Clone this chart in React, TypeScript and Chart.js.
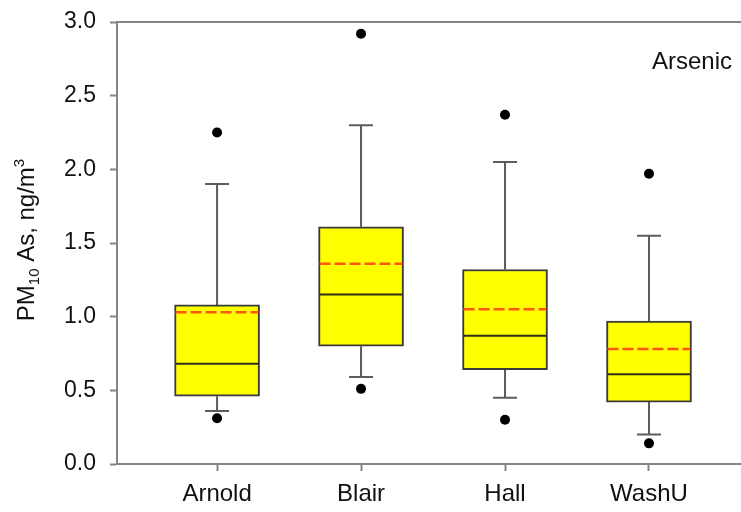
import { useEffect, useRef } from 'react';
import { Chart, registerables } from 'chart.js';

Chart.register(...registerables);

// Arsenic box-plot summaries per monitoring site (ng/m3)
const categories = ['Arnold', 'Blair', 'Hall', 'WashU'];
const lowerWhisker = [0.36, 0.59, 0.45, 0.2];
const lowerQuartile = [0.46, 0.8, 0.64, 0.42];
const medians = [0.68, 1.15, 0.87, 0.61];
const upperQuartile = [1.08, 1.61, 1.32, 0.97];
const upperWhisker = [1.9, 2.3, 2.05, 1.55];
const means = [1.03, 1.36, 1.05, 0.78];
const lowOutliers = [0.31, 0.51, 0.3, 0.14];
const highOutliers = [2.25, 2.92, 2.37, 1.97];
const yTicks = [0, 0.5, 1.0, 1.5, 2.0, 2.5, 3.0];
const panelLabel = 'Arsenic';

const FONT = "'Liberation Sans', Arial, Helvetica, sans-serif";
const AXIS_COLOR = '#858585';
const TEXT_COLOR = '#111111';

const boxPlotPlugin = {
  id: 'boxPlotExtras',
  beforeDatasetsDraw(chart: any) {
    const { ctx, chartArea, scales } = chart;
    const x = scales.x;
    const y = scales.y;
    ctx.save();
    // frame line along the top of the plot area
    ctx.strokeStyle = AXIS_COLOR;
    ctx.lineWidth = 2;
    ctx.beginPath();
    ctx.moveTo(chartArea.left - 1, chartArea.top);
    ctx.lineTo(chartArea.right, chartArea.top);
    ctx.stroke();

    // whiskers with end caps
    ctx.strokeStyle = '#5c5c5c';
    ctx.lineWidth = 2;
    categories.forEach((_, i) => {
      const px = x.getPixelForValue(i + 1);
      const capHalf = 12;
      const spans = [
        [upperQuartile[i], upperWhisker[i]],
        [lowerQuartile[i], lowerWhisker[i]],
      ];
      spans.forEach(([from, to]) => {
        const y0 = y.getPixelForValue(from);
        const y1 = y.getPixelForValue(to);
        ctx.beginPath();
        ctx.moveTo(px, y0);
        ctx.lineTo(px, y1);
        ctx.moveTo(px - capHalf, y1);
        ctx.lineTo(px + capHalf, y1);
        ctx.stroke();
      });
    });
    ctx.restore();
  },
  afterDatasetsDraw(chart: any) {
    const { ctx, scales } = chart;
    const x = scales.x;
    const y = scales.y;
    const boxes = chart.getDatasetMeta(0).data;
    ctx.save();
    categories.forEach((_, i) => {
      const px = x.getPixelForValue(i + 1);
      const half = boxes[i].width / 2 - 1;
      // median
      ctx.setLineDash([]);
      ctx.strokeStyle = '#2e2e1a';
      ctx.lineWidth = 2;
      const ym = y.getPixelForValue(medians[i]);
      ctx.beginPath();
      ctx.moveTo(px - half, ym);
      ctx.lineTo(px + half, ym);
      ctx.stroke();
      // mean
      ctx.setLineDash([11, 4]);
      ctx.strokeStyle = '#ff5414';
      ctx.lineWidth = 2.5;
      const ya = y.getPixelForValue(means[i]);
      ctx.beginPath();
      ctx.moveTo(px - half, ya);
      ctx.lineTo(px + half, ya);
      ctx.stroke();
    });
    ctx.restore();
  },
  afterDraw(chart: any) {
    const { ctx } = chart;
    ctx.save();
    ctx.fillStyle = TEXT_COLOR;

    // panel label in the upper right corner
    ctx.font = `24px ${FONT}`;
    ctx.textAlign = 'right';
    ctx.textBaseline = 'middle';
    ctx.fillText(panelLabel, 732, 62);

    // y-axis title with subscript and superscript
    const parts = [
      { text: 'PM', size: 24, shift: 0 },
      { text: '10', size: 15, shift: 5 },
      { text: ' As, ng/m', size: 24, shift: 0 },
      { text: '3', size: 15, shift: -10 },
    ];
    let total = 0;
    parts.forEach((p) => {
      ctx.font = `${p.size}px ${FONT}`;
      total += ctx.measureText(p.text).width;
    });
    const centerY = 240;
    ctx.translate(34, centerY + total / 2);
    ctx.rotate(-Math.PI / 2);
    ctx.textAlign = 'left';
    ctx.textBaseline = 'alphabetic';
    let cx = 0;
    parts.forEach((p) => {
      ctx.font = `${p.size}px ${FONT}`;
      ctx.fillText(p.text, cx, p.shift);
      cx += ctx.measureText(p.text).width;
    });
    ctx.restore();
  },
};

export default function App() {
  const canvasRef = useRef<HTMLCanvasElement | null>(null);

  useEffect(() => {
    const canvas = canvasRef.current;
    if (!canvas) return;

    const chart = new Chart(canvas, {
      type: 'bar',
      data: {
        datasets: [
          {
            type: 'bar',
            label: 'Interquartile range',
            data: categories.map((_, i) => ({
              x: i + 1,
              y: [lowerQuartile[i], upperQuartile[i]],
            })) as any,
            backgroundColor: '#ffff00',
            borderColor: '#3a3a3a',
            borderWidth: 2,
            borderSkipped: false,
            barThickness: 85,
          },
          {
            type: 'scatter',
            label: 'Outliers',
            data: categories.flatMap((_, i) => [
              { x: i + 1, y: lowOutliers[i] },
              { x: i + 1, y: highOutliers[i] },
            ]),
            backgroundColor: '#000000',
            borderColor: '#000000',
            pointRadius: 5,
            pointBorderWidth: 0,
            showLine: false,
          } as any,
        ],
      },
      options: {
        responsive: false,
        animation: false,
        devicePixelRatio: 1,
        layout: { autoPadding: false, padding: { top: 22, right: 0, left: 0, bottom: 0 } },
        plugins: {
          legend: { display: false },
          tooltip: { enabled: false },
        },
        scales: {
          x: {
            type: 'linear',
            offset: false,
            min: 0.305,
            max: 4.639,
            afterBuildTicks: (scale: any) => {
              scale.ticks = categories.map((_, i) => ({ value: i + 1 }));
            },
            afterFit: (scale: any) => {
              scale.height = 48;
              scale.paddingLeft = 0;
              scale.paddingRight = 0;
            },
            ticks: {
              callback: (v: any) => categories[Math.round(Number(v)) - 1] ?? '',
              font: { family: FONT, size: 24 },
              color: TEXT_COLOR,
              padding: 9,
              maxRotation: 0,
              autoSkip: false,
            },
            grid: {
              offset: false,
              drawOnChartArea: false,
              drawTicks: true,
              tickLength: 7,
              tickColor: AXIS_COLOR,
              tickWidth: 2,
            },
            border: { display: true, color: AXIS_COLOR, width: 2 },
          },
          y: {
            type: 'linear',
            min: 0,
            max: 3,
            afterBuildTicks: (scale: any) => {
              scale.ticks = yTicks.map((v) => ({ value: v }));
            },
            afterFit: (scale: any) => {
              scale.width = 117;
              scale.paddingTop = 0;
              scale.paddingBottom = 0;
            },
            ticks: {
              callback: (v: any) => Number(v).toFixed(1),
              font: { family: FONT, size: 23 },
              color: TEXT_COLOR,
              padding: 14,
            },
            grid: {
              drawOnChartArea: false,
              drawTicks: true,
              tickLength: 7,
              tickColor: AXIS_COLOR,
              tickWidth: 2,
            },
            border: { display: true, color: AXIS_COLOR, width: 2 },
          },
        },
      },
      plugins: [boxPlotPlugin],
    });

    return () => chart.destroy();
  }, []);

  return (
    <div style={{ position: 'fixed', left: 0, top: 0, width: 741, height: 512, background: '#ffffff' }}>
      <canvas ref={canvasRef} width={741} height={512} style={{ width: 741, height: 512, display: 'block' }} />
    </div>
  );
}
